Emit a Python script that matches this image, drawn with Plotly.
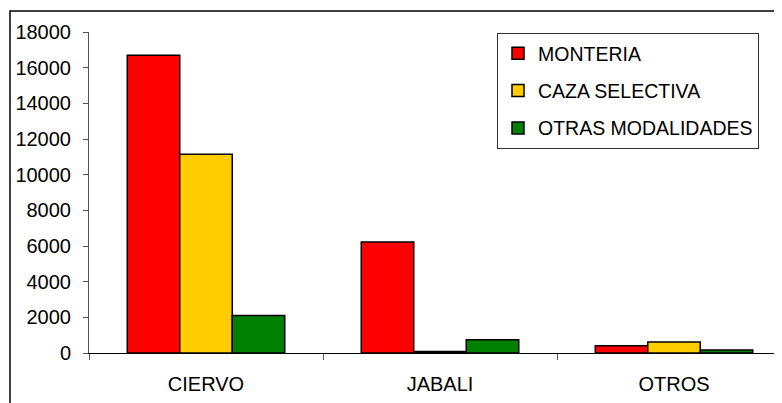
import plotly.graph_objects as go

categories = ["CIERVO", "JABALI", "OTROS"]
monteria = [16700, 6230, 400]
caza_selectiva = [11150, 80, 610]
otras_modalidades = [2100, 740, 170]
series_names = ["MONTERIA", "CAZA SELECTIVA", "OTRAS MODALIDADES"]
series_colors = ["#FF0000", "#FFCC00", "#008000"]
y_ticks = [0, 2000, 4000, 6000, 8000, 10000, 12000, 14000, 16000, 18000]

fig = go.Figure()
for i, (name, vals, col) in enumerate(zip(series_names, [monteria, caza_selectiva, otras_modalidades], series_colors)):
    fig.add_trace(go.Bar(
        x=categories, y=vals, name=name, legendgroup=f"g{i}",
        marker=dict(color=col, line=dict(color="#000000", width=1.5)),
    ))

# page body has an 8px default margin; compensate so plot lands where the reference has it
OFF = 8
W, H = 782, 403
L, R, T, B = 89 - OFF, OFF, 32 - OFF, 50 + OFF
pw = W - L - R
ph = H - T - B
cat_px = 234.0

def px_x(x):
    return (x - OFF - L) / pw

def px_y(y):
    return (H - B - (y - OFF)) / ph

fig.update_layout(
    width=W, height=H,
    margin=dict(l=L, r=R, t=T, b=B, pad=0),
    paper_bgcolor="white", plot_bgcolor="white",
    barmode="group", bargap=0.327, bargroupgap=0,
    font=dict(family="Liberation Sans, Arial, sans-serif", size=20, color="#000000"),
    showlegend=True,
    legend=dict(
        x=px_x(497), y=px_y(33), xanchor="left", yanchor="top",
        bgcolor="white", bordercolor="#333333", borderwidth=1,
        font=dict(size=19.5), tracegroupgap=9, traceorder="grouped",
    ),
    xaxis=dict(
        range=[-0.5, -0.5 + pw / cat_px], showgrid=False, zeroline=False,
        showline=True, linecolor="#000000", linewidth=1,
        ticks="outside", ticklen=6, tickcolor="#555555", tickson="boundaries",
        tickfont=dict(size=20), ticklabelstandoff=13,
    ),
    yaxis=dict(
        range=[0, 18000], tickvals=y_ticks, ticktext=[str(v) for v in y_ticks],
        showgrid=False, zeroline=False,
        showline=True, linecolor="#555555", linewidth=1,
        ticks="outside", ticklen=5, tickcolor="#555555",
        tickfont=dict(size=20), ticklabelstandoff=8,
    ),
    shapes=[dict(
        type="rect", xref="paper", yref="paper",
        x0=px_x(10), x1=1.3, y0=-0.5, y1=px_y(11),
        line=dict(color="#000000", width=1.5), fillcolor="rgba(0,0,0,0)", layer="below",
    )],
)

fig.write_html("out.html")
